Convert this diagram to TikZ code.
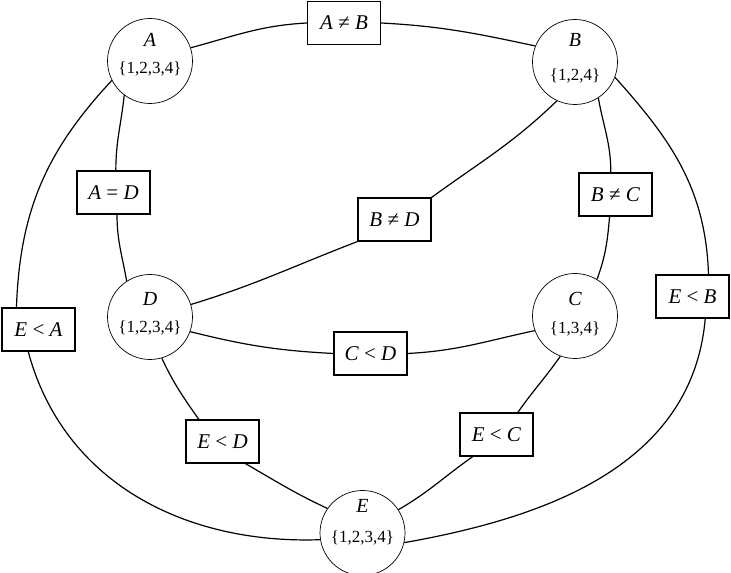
\documentclass[tikz,border=0pt]{standalone}
\usepackage{fontspec}
\setmainfont{Liberation Serif}

\newcommand{\gunit}{1pt}
%variable name over its domain
\newcommand{\vlab}[4]{\smash{\raisebox{-#4}{\begin{tabular}[b]{@{}c@{}}{\fontsize{20}{20}\selectfont\itshape #1}\\[#3]\{#2\}\end{tabular}}}}

\begin{document}
\begin{tikzpicture}[x=\gunit,y=\gunit,
	var/.style={circle,draw,line width=0.7pt,minimum size=85pt,inner sep=0pt,font=\fontsize{17}{20}\selectfont},
	cons/.style={rectangle,draw,line width=1.1pt,minimum width=73pt,minimum height=43pt,inner sep=0pt,font=\fontsize{21}{24}\selectfont},
	arc/.style={line width=1.2pt}]
	\useasboundingbox (0,0) rectangle (731,573);

	%all variables
	\node[var] (A) at (150,512) {\vlab{A}{1,2,3,4}{7.5pt}{13pt}};
	\node[var] (B) at (575,511) {\vlab{B}{1,2,4}{13.5pt}{18.5pt}};
	\node[var] (C) at (575,257) {\vlab{C}{1,3,4}{8.5pt}{18pt}};
	\node[var] (D) at (150,256) {\vlab{D}{1,2,3,4}{7pt}{16pt}};
	\node[var] (E) at (362.5,40) {\vlab{E}{1,2,3,4}{9.5pt}{9pt}};

	%all constraints
	\node[cons] (AneB) at (344,550) {\textit{A} ≠ \textit{B}};
	\node[cons] (AeqD) at (113.5,380.5) {\textit{A} = \textit{D}};
	\node[cons] (BneD) at (394.5,353.5) {\textit{B} ≠ \textit{D}};
	\node[cons] (BneC) at (615.5,378.5) {\textit{B} ≠ \textit{C}};
	\node[cons] (EltB) at (692.5,276.5) {\textit{E} < \textit{B}};
	\node[cons] (EltA) at (38.5,243.5) {\textit{E} < \textit{A}};
	\node[cons] (CltD) at (370.5,219.5) {\textit{C} < \textit{D}};
	\node[cons] (EltD) at (222.5,131.5) {\textit{E} < \textit{D}};
	\node[cons] (EltC) at (496.5,138.5) {\textit{E} < \textit{C}};

	%draw arcs
	\foreach \a/\b/\o/\i in {
		A.18/AneB.west/15/183,
		AneB.east/B.158/-3/168,
		A.233/AeqD.84/-96/90,
		AeqD.-81/D.123/-90/100,
		A.207/EltA.135/227/88,
		EltA.245/E.189/-75/182,
		B.245/BneD.north east/224/36,
		BneD.south west/D.17/201/17,
		B.303/BneC.102/-80/90,
		BneC.-105/C.59/-95/70,
		B.-21/EltB.54/-48/92,
		EltB.-60/E.-13/-95/10,
		D.-20/CltD.west/-14/177,
		CltD.east/C.200/3/192,
		D.-74/EltD.137/-65/125,
		EltD.-44/E.145/-30/155,
		C.250/EltC.46/235/55,
		EltC.223/E.33/215/30} {
		\draw[arc] (\a) to[out=\o,in=\i] (\b);
	}
\end{tikzpicture}
\end{document}
